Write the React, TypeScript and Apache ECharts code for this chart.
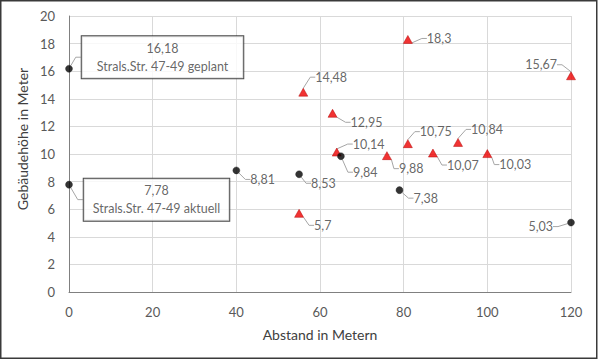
import React, { useEffect, useRef } from "react";
import * as echarts from "echarts";

// Data: distance (m) and building height (m)
const circleX = [0, 0, 40, 55, 65, 79, 120];
const circleY = [16.18, 7.78, 8.81, 8.53, 9.84, 7.38, 5.03];
const circleNames = ["Strals.Str. 47-49 geplant", "Strals.Str. 47-49 aktuell", "", "", "", "", ""];

const triangleX = [55, 56, 63, 64, 76, 81, 81, 87, 93, 100, 120];
const triangleY = [5.7, 14.48, 12.95, 10.14, 9.88, 10.75, 18.3, 10.07, 10.84, 10.03, 15.67];

const xTicks = { min: 0, max: 120, interval: 20 };
const yTicks = { min: 0, max: 20, interval: 2 };

// Label placement relative to each marker (layout only)
type Place = { dx: number; dy: number; align: "left" | "right" | "center" };
const circlePlaces: Place[] = [
  { dx: 93.5, dy: -11.5, align: "center" },
  { dx: 87.5, dy: 15, align: "center" },
  { dx: 14, dy: 9, align: "left" },
  { dx: 12, dy: 9, align: "left" },
  { dx: 12, dy: 16, align: "left" },
  { dx: 14, dy: 8, align: "left" },
  { dx: -18, dy: 4, align: "right" },
];
const trianglePlaces: Place[] = [
  { dx: 15, dy: 12, align: "left" },
  { dx: 12, dy: -15, align: "left" },
  { dx: 18, dy: 9, align: "left" },
  { dx: 16, dy: -8, align: "left" },
  { dx: 12, dy: 13, align: "left" },
  { dx: 12, dy: -12, align: "left" },
  { dx: 19, dy: -1, align: "left" },
  { dx: 14, dy: 12, align: "left" },
  { dx: 13, dy: -13, align: "left" },
  { dx: 12, dy: 11, align: "left" },
  { dx: -14, dy: -11, align: "right" },
];

const FONT = "Lato";
const fmt = (v: number) => String(v).replace(".", ",");

function makeLayout(places: Place[]) {
  return (p: any) => {
    const pl = places[p.dataIndex];
    const cx = p.rect.x + p.rect.width / 2;
    const cy = p.rect.y + p.rect.height / 2;
    return { x: cx + pl.dx, y: cy + pl.dy, align: pl.align, verticalAlign: "middle" };
  };
}

const labelLine = { show: true, length2: 5, lineStyle: { color: "#a6a6a6", width: 1 } };

export default function App() {
  const ref = useRef<HTMLDivElement>(null);
  useEffect(() => {
    if (!ref.current) return;
    const chart = echarts.init(ref.current, undefined, { renderer: "svg" });

    const circleData = circleX.map((x, i) => {
      const item: any = { value: [x, circleY[i]], name: circleNames[i] };
      if (circleNames[i]) {
        item.label = {
          formatter: `${fmt(circleY[i])}\n${circleNames[i]}`,
          backgroundColor: "#ffffff",
          borderColor: "#1a1a1a",
          borderWidth: 1,
          fontSize: 12.5,
          padding: i === 0 ? [3, 15, 3, 15] : [3, 9, 3, 9],
          lineHeight: 18,
          align: "center",
        };
      }
      return item;
    });

    chart.setOption({
      animation: false,
      backgroundColor: "#ffffff",
      textStyle: { fontFamily: FONT },
      grid: { left: 69, right: 27, top: 16, bottom: 68 },
      xAxis: {
        type: "value",
        min: xTicks.min,
        max: xTicks.max,
        interval: xTicks.interval,
        name: "Abstand in Metern",
        nameLocation: "middle",
        nameGap: 35,
        nameTextStyle: { color: "#404040", fontSize: 14, fontFamily: FONT },
        axisLine: { show: true, onZero: false, lineStyle: { color: "#808080", width: 1 } },
        axisTick: { show: false },
        axisLabel: { color: "#595959", fontSize: 13, margin: 13, fontFamily: FONT },
        splitLine: { show: true, lineStyle: { color: "#d9d9d9", width: 1 } },
      },
      yAxis: {
        type: "value",
        min: yTicks.min,
        max: yTicks.max,
        interval: yTicks.interval,
        name: "Gebäudehöhe in Meter",
        nameLocation: "middle",
        nameGap: 35,
        nameTextStyle: { color: "#404040", fontSize: 14, fontFamily: FONT, padding: [0, 0, 0, 30] },
        axisLine: { show: true, lineStyle: { color: "#808080", width: 1 } },
        axisTick: { show: false },
        axisLabel: { color: "#595959", fontSize: 13, margin: 14, fontFamily: FONT },
        splitLine: { show: true, lineStyle: { color: "#d9d9d9", width: 1 } },
      },
      graphic: [
        {
          type: "rect",
          shape: { x: 0.75, y: 0.75, width: 596, height: 357.5 },
          style: { fill: "none", stroke: "#3a3a3a", lineWidth: 1.5 },
          silent: true,
        },
      ],
      series: [
        {
          type: "scatter",
          name: "Dreieck",
          symbol: "triangle",
          symbolSize: [9, 8],
          itemStyle: { color: "#ee0000", borderColor: "#b00000", borderWidth: 0.6 },
          data: triangleX.map((x, i) => [x, triangleY[i]]),
          label: {
            show: true,
            formatter: (p: any) => fmt(p.value[1]),
            color: "#404040",
            fontSize: 12.5,
            fontFamily: FONT,
          },
          labelLine,
          labelLayout: makeLayout(trianglePlaces),
        },
        {
          type: "scatter",
          name: "Kreis",
          symbol: "circle",
          symbolSize: 7,
          itemStyle: { color: "#000000", borderColor: "#262626", borderWidth: 0.5 },
          data: circleData,
          label: {
            show: true,
            formatter: (p: any) => fmt(p.value[1]),
            color: "#404040",
            fontSize: 12.5,
            fontFamily: FONT,
          },
          labelLine,
          labelLayout: makeLayout(circlePlaces),
        },
      ],
    });
    return () => chart.dispose();
  }, []);

  return (
    <div
      ref={ref}
      style={{ position: "fixed", left: 0, top: 0, width: 598, height: 360 }}
    />
  );
}
